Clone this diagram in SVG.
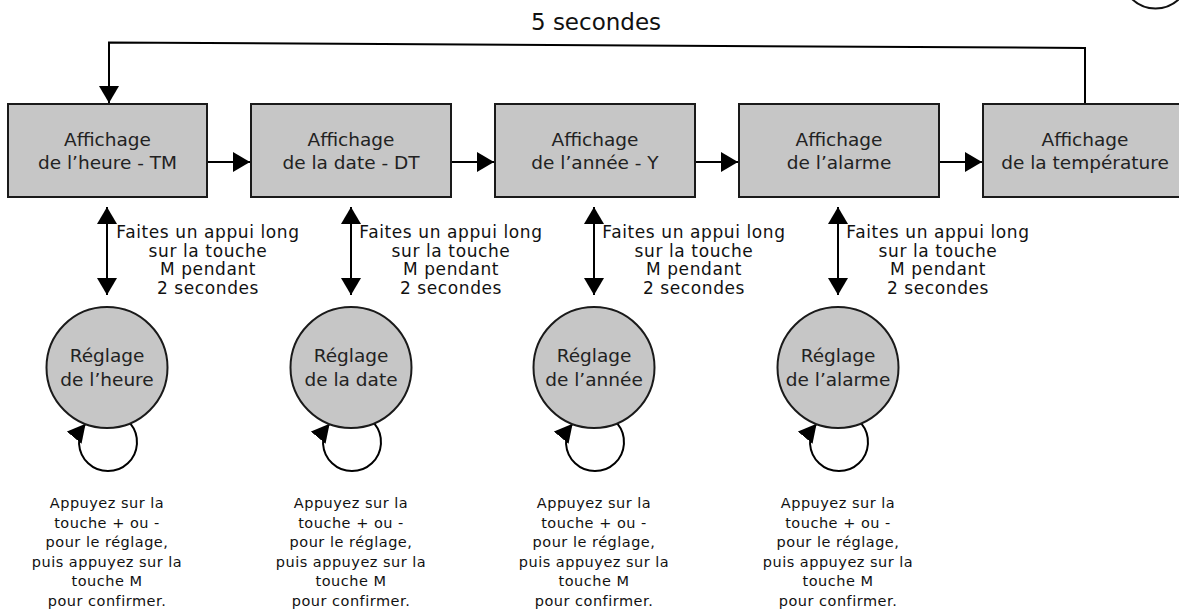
<svg xmlns="http://www.w3.org/2000/svg" width="1179" height="611" viewBox="0 0 1179 611">
<defs>
<style>
.box{fill:#c6c6c6;stroke:#1a1a1a;stroke-width:2}
.st{fill:#c6c6c6;stroke:#1a1a1a;stroke-width:2}
.t{font-family:"DejaVu Sans",sans-serif;font-size:18.5px;fill:#222;text-anchor:middle}
.a{font-family:"DejaVu Sans",sans-serif;font-size:17px;letter-spacing:0.6px;fill:#111;text-anchor:middle}
.b{font-family:"DejaVu Sans",sans-serif;font-size:14.5px;letter-spacing:0.5px;fill:#111;text-anchor:middle}
.ttl{font-family:"DejaVu Sans",sans-serif;font-size:23px;fill:#111;text-anchor:middle}
.c{fill:none;stroke:#000;stroke-width:2}
</style>
<marker id="ah" markerUnits="userSpaceOnUse" markerWidth="17" markerHeight="20" viewBox="0 0 17 20" refX="17" refY="10" orient="auto">
<path d="M0,0 L17,10 L0,20 z" fill="#000"/>
</marker>
<marker id="ahs" markerUnits="userSpaceOnUse" markerWidth="17" markerHeight="20" viewBox="0 0 17 20" refX="0" refY="10" orient="auto">
<path d="M17,0 L0,10 L17,20 z" fill="#000"/>
</marker>
<marker id="ahl" markerUnits="userSpaceOnUse" markerWidth="18" markerHeight="19" viewBox="0 0 18 19" refX="18" refY="9.5" orient="auto">
<path d="M0,0 L18,9.5 L0,19 z" fill="#000"/>
</marker>
</defs>

<circle cx="1155.5" cy="-25.5" r="34" fill="none" stroke="#111" stroke-width="2"/>

<g id="connectors">
<path class="c" d="M1085,104 V48 L109,42.5 V103" marker-end="url(#ah)"/>
<path class="c" d="M208,162 H250" marker-end="url(#ah)"/>
<path class="c" d="M452,162 H494" marker-end="url(#ah)"/>
<path class="c" d="M696,162 H738" marker-end="url(#ah)"/>
<path class="c" d="M940,162 H982" marker-end="url(#ah)"/>
<path class="c" d="M107,207 V295" marker-start="url(#ahs)" marker-end="url(#ah)"/>
<path class="c" d="M351,207 V295" marker-start="url(#ahs)" marker-end="url(#ah)"/>
<path class="c" d="M594,207 V295" marker-start="url(#ahs)" marker-end="url(#ah)"/>
<path class="c" d="M838,207 V295" marker-start="url(#ahs)" marker-end="url(#ah)"/>
<path class="c" d="M130.4,423.7 A29,29 0 1,1 85.6,423.7" marker-end="url(#ahl)"/>
<path class="c" d="M374.4,423.7 A29,29 0 1,1 329.6,423.7" marker-end="url(#ahl)"/>
<path class="c" d="M617.4,423.7 A29,29 0 1,1 572.6,423.7" marker-end="url(#ahl)"/>
<path class="c" d="M861.4,423.7 A29,29 0 1,1 816.6,423.7" marker-end="url(#ahl)"/>
<text class="ttl" x="596" y="30">5 secondes</text>
<text class="a" y="238"><tspan x="208">Faites un appui long</tspan><tspan x="208" y="256.5">sur la touche</tspan><tspan x="208" y="275">M pendant</tspan><tspan x="208" y="293.5">2 secondes</tspan></text>
<text class="a" y="238"><tspan x="451">Faites un appui long</tspan><tspan x="451" y="256.5">sur la touche</tspan><tspan x="451" y="275">M pendant</tspan><tspan x="451" y="293.5">2 secondes</tspan></text>
<text class="a" y="238"><tspan x="694">Faites un appui long</tspan><tspan x="694" y="256.5">sur la touche</tspan><tspan x="694" y="275">M pendant</tspan><tspan x="694" y="293.5">2 secondes</tspan></text>
<text class="a" y="238"><tspan x="938">Faites un appui long</tspan><tspan x="938" y="256.5">sur la touche</tspan><tspan x="938" y="275">M pendant</tspan><tspan x="938" y="293.5">2 secondes</tspan></text>
<text class="b" y="508"><tspan x="107">Appuyez sur la</tspan><tspan x="107" y="527.5">touche + ou -</tspan><tspan x="107" y="547">pour le réglage,</tspan><tspan x="107" y="566.5">puis appuyez sur la</tspan><tspan x="107" y="586">touche M</tspan><tspan x="107" y="605.5">pour confirmer.</tspan></text>
<text class="b" y="508"><tspan x="351">Appuyez sur la</tspan><tspan x="351" y="527.5">touche + ou -</tspan><tspan x="351" y="547">pour le réglage,</tspan><tspan x="351" y="566.5">puis appuyez sur la</tspan><tspan x="351" y="586">touche M</tspan><tspan x="351" y="605.5">pour confirmer.</tspan></text>
<text class="b" y="508"><tspan x="594">Appuyez sur la</tspan><tspan x="594" y="527.5">touche + ou -</tspan><tspan x="594" y="547">pour le réglage,</tspan><tspan x="594" y="566.5">puis appuyez sur la</tspan><tspan x="594" y="586">touche M</tspan><tspan x="594" y="605.5">pour confirmer.</tspan></text>
<text class="b" y="508"><tspan x="838">Appuyez sur la</tspan><tspan x="838" y="527.5">touche + ou -</tspan><tspan x="838" y="547">pour le réglage,</tspan><tspan x="838" y="566.5">puis appuyez sur la</tspan><tspan x="838" y="586">touche M</tspan><tspan x="838" y="605.5">pour confirmer.</tspan></text>
</g>

<g id="box-heure"><rect class="box" x="8" y="104" width="199" height="93"/><text class="t" y="146"><tspan x="107.5">Affichage</tspan><tspan x="107.5" y="169">de l’heure - TM</tspan></text></g>
<g id="box-date"><rect class="box" x="251" y="104" width="200" height="93"/><text class="t" y="146"><tspan x="351">Affichage</tspan><tspan x="351" y="169">de la date - DT</tspan></text></g>
<g id="box-annee"><rect class="box" x="495" y="104" width="200" height="93"/><text class="t" y="146"><tspan x="595">Affichage</tspan><tspan x="595" y="169">de l’année - Y</tspan></text></g>
<g id="box-alarme"><rect class="box" x="739" y="104" width="200" height="93"/><text class="t" y="146"><tspan x="839">Affichage</tspan><tspan x="839" y="169">de l’alarme</tspan></text></g>
<g id="box-temp"><rect class="box" x="983" y="104" width="205" height="93"/><text class="t" y="146"><tspan x="1085">Affichage</tspan><tspan x="1085" y="169">de la température</tspan></text></g>

<g id="state-heure"><circle class="st" cx="107" cy="367.5" r="60.5"/><text class="t" y="362"><tspan x="107">Réglage</tspan><tspan x="107" y="386">de l’heure</tspan></text></g>
<g id="state-date"><circle class="st" cx="351" cy="367.5" r="60.5"/><text class="t" y="362"><tspan x="351">Réglage</tspan><tspan x="351" y="386">de la date</tspan></text></g>
<g id="state-annee"><circle class="st" cx="594" cy="367.5" r="60.5"/><text class="t" y="362"><tspan x="594">Réglage</tspan><tspan x="594" y="386">de l’année</tspan></text></g>
<g id="state-alarme"><circle class="st" cx="838" cy="367.5" r="60.5"/><text class="t" y="362"><tspan x="838">Réglage</tspan><tspan x="838" y="386">de l’alarme</tspan></text></g>
</svg>
